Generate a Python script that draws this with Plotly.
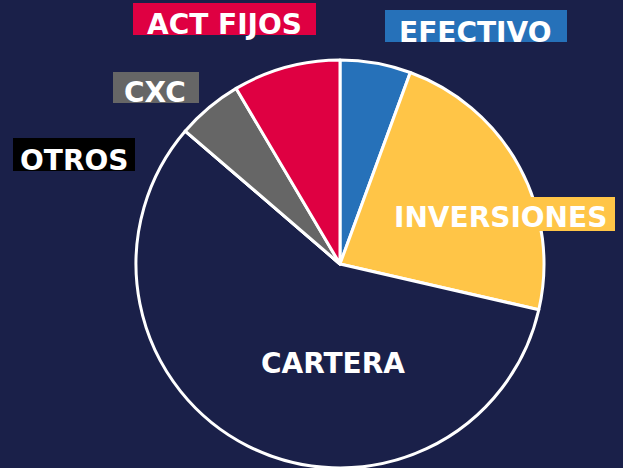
import plotly.graph_objects as go

W, H = 623, 468

categories = ["EFECTIVO", "INVERSIONES", "CARTERA", "OTROS", "CXC", "ACT FIJOS"]
values = [5.6, 23.0, 57.7, 0.0, 5.2, 8.5]
slice_colors = ["#2671b9", "#ffc547", "#1a2049", "#1a2049", "#666666", "#df0042"]

BG = "#1a2049"

# label boxes: (text, box x0, x1, y0, y1 in px from top-left, text center x, text center y, box color)
labels = [
    ("ACT FIJOS", 133, 316, 3, 35, 224, 24, "#df0042"),
    ("EFECTIVO", 385, 567, 10, 42, 475, 33, "#2671b9"),
    ("CXC", 113, 199, 72, 103, 155, 93, "#666666"),
    ("OTROS", 13, 135, 138, 171, 74, 160, "#000000"),
    ("INVERSIONES", 383, 615, 197, 231, 500, 217, "#ffc547"),
    ("CARTERA", None, None, None, None, 333, 363, None),
]

cx, cy, r = 340, 264, 204

fig = go.Figure(go.Pie(
    labels=categories,
    values=values,
    sort=False,
    direction="clockwise",
    rotation=0,
    marker=dict(colors=slice_colors, line=dict(color="white", width=3)),
    textinfo="none",
    hoverinfo="label+percent",
    domain=dict(x=[(cx - r) / W, (cx + r) / W], y=[(H - cy - r) / H, (H - cy + r) / H]),
    showlegend=False,
))

def px_x(x):
    return x / W

def px_y(y):
    return 1 - y / H

shapes = []
annotations = []
for text, x0, x1, y0, y1, tx, ty, col in labels:
    if col is not None:
        shapes.append(dict(type="rect", xref="paper", yref="paper",
                           x0=px_x(x0), x1=px_x(x1), y0=px_y(y1), y1=px_y(y0),
                           fillcolor=col, line=dict(width=0), layer="above"))
    annotations.append(dict(text=text, xref="paper", yref="paper",
                            x=px_x(tx), y=px_y(ty), xanchor="center", yanchor="middle",
                            showarrow=False,
                            font=dict(family="DejaVu Sans", size=28, color="white", weight="bold")))

fig.update_layout(
    width=W, height=H,
    margin=dict(l=0, r=0, t=0, b=0),
    paper_bgcolor=BG, plot_bgcolor=BG,
    shapes=shapes,
    annotations=annotations,
)

fig.write_html("out.html", config={"displayModeBar": False},
               post_script="document.body.style.margin='0';document.body.style.background='%s';" % BG)
